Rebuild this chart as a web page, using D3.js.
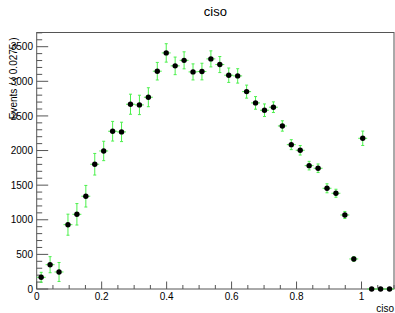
<!DOCTYPE html>
<html>
<head>
<meta charset="utf-8">
<script src="https://cdn.jsdelivr.net/npm/d3@7"></script>
<style>
  html, body { margin: 0; padding: 0; background: #fff; }
  svg { display: block; font-family: 'Liberation Sans', Arial, sans-serif; }
</style>
</head>
<body>
<div id="root"></div>
<script>
// histogram "ciso": 40 bins of 0.0275 from 0 to 1.1
const BIN_WIDTH = 0.0275
const counts = [
  169, 351, 246, 929, 1079, 1340, 1802, 1994, 2279, 2269,
  2669, 2659, 2770, 3146, 3410, 3223, 3303, 3136, 3141, 3324,
  3242, 3088, 3078, 2851, 2688, 2582, 2626, 2355, 2085, 2004,
  1782, 1744, 1455, 1383, 1069, 434, 2177, 0, 0, 0,
]
const errors = [
  72, 116, 137, 152, 155, 156, 156, 140, 142, 140,
  145, 140, 137, 127, 133, 127, 123, 116, 120, 116,
  116, 104, 104, 94, 91, 91, 77, 75, 72, 69,
  62, 62, 65, 58, 51, 33, 104, 0, 0, 0,
]
const xTickLabels = ['0', '0.2', '0.4', '0.6', '0.8', '1']
const yTickValues = [0, 500, 1000, 1500, 2000, 2500, 3000, 3500]

const W = 395, H = 313
const frame = { left: 36.7, right: 394, top: 32.5, bottom: 289 }
const AXIS_COLOR = '#555'
const ERR_COLOR = '#4cf04c'

const x = d3.scaleLinear().domain([0, 1.1]).range([frame.left, frame.right])
const y = d3.scaleLinear().domain([0, 3705]).range([frame.bottom, frame.top])

const points = counts.map((c, i) => ({
  lo: i * BIN_WIDTH,
  hi: (i + 1) * BIN_WIDTH,
  mid: (i + 0.5) * BIN_WIDTH,
  v: c,
  e: errors[i],
}))

const svg = d3.select('#root')
  .append('svg')
  .attr('width', W)
  .attr('height', H)

// frame
svg.append('rect')
  .attr('x', frame.left)
  .attr('y', frame.top)
  .attr('width', frame.right - frame.left)
  .attr('height', frame.bottom - frame.top)
  .attr('fill', 'none')
  .attr('stroke', AXIS_COLOR)
  .attr('stroke-width', 1)

// x axis: majors every 0.2, minors every 0.05
const xAxis = svg.append('g').attr('class', 'x-axis')
xAxis.selectAll('line.minor')
  .data(d3.range(0, 23).map(i => i * 0.05).filter(v => v <= 1.1))
  .join('line')
    .attr('class', 'minor')
    .attr('x1', d => x(d)).attr('x2', d => x(d))
    .attr('y1', frame.bottom).attr('y2', (d, i) => frame.bottom - (i % 4 === 0 ? 7.5 : 4))
    .attr('stroke', AXIS_COLOR)
xAxis.selectAll('text')
  .data(xTickLabels)
  .join('text')
    .attr('x', d => x(+d))
    .attr('y', 299.5)
    .attr('text-anchor', 'middle')
    .attr('font-size', 10)
    .text(d => d)
xAxis.append('text')
  .attr('x', frame.right)
  .attr('y', 311.5)
  .attr('text-anchor', 'end')
  .attr('font-size', 10)
  .text('ciso')

// y axis: majors every 500, minors every 100
const yAxis = svg.append('g').attr('class', 'y-axis')
yAxis.selectAll('line')
  .data(d3.range(0, 38).map(i => i * 100))
  .join('line')
    .attr('x1', frame.left)
    .attr('x2', d => frame.left + (d % 500 === 0 ? 11.5 : 5.5))
    .attr('y1', d => y(d)).attr('y2', d => y(d))
    .attr('stroke', AXIS_COLOR)
yAxis.selectAll('text')
  .data(yTickValues)
  .join('text')
    .attr('x', 33)
    .attr('y', d => y(d) + 3.6)
    .attr('text-anchor', 'end')
    .attr('font-size', 10)
    .text(d => d)
yAxis.append('text')
  .attr('transform', `translate(16.5, ${frame.top + 5}) rotate(-90)`)
  .attr('text-anchor', 'end')
  .attr('font-size', 10)
  .text('Events / ( 0.0275 )')

// error bars
const bars = svg.append('g').attr('class', 'errors')
  .attr('stroke', ERR_COLOR)
  .attr('stroke-width', 1)
  .selectAll('g')
  .data(points)
  .join('g')
bars.append('line')
  .attr('x1', d => x(d.lo)).attr('x2', d => x(d.hi))
  .attr('y1', d => y(d.v)).attr('y2', d => y(d.v))
bars.append('line')
  .attr('x1', d => x(d.mid)).attr('x2', d => x(d.mid))
  .attr('y1', d => y(d.v - d.e)).attr('y2', d => y(d.v + d.e))
bars.filter(d => d.e > 0).append('path')
  .attr('d', d => {
    const cx = x(d.mid)
    return `M${cx - 1.5},${y(d.v + d.e)}H${cx + 1.5}M${cx - 1.5},${y(d.v - d.e)}H${cx + 1.5}`
  })

// markers
svg.append('g').attr('class', 'markers')
  .selectAll('circle')
  .data(points)
  .join('circle')
    .attr('cx', d => x(d.mid))
    .attr('cy', d => y(d.v))
    .attr('r', 2.7)
    .attr('fill', '#000')

// title
svg.append('text')
  .attr('x', (frame.left + frame.right) / 2)
  .attr('y', 16)
  .attr('text-anchor', 'middle')
  .attr('font-size', 13)
  .text('ciso')
</script>
</body>
</html>
